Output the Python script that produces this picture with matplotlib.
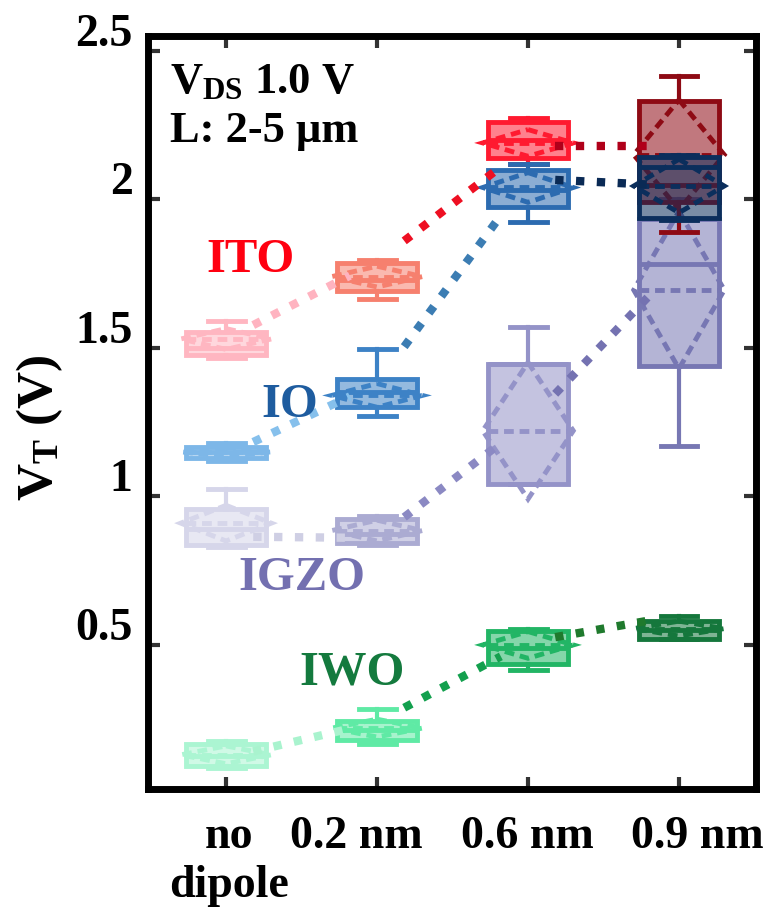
import matplotlib
matplotlib.use("Agg")
import matplotlib.pyplot as plt
import matplotlib.transforms as mtransforms
from matplotlib.colors import to_rgba
from matplotlib.patches import Polygon

plt.rcParams['font.family'] = ['Liberation Serif', 'DejaVu Serif']
plt.rcParams['font.weight'] = 'bold'
plt.rcParams['mathtext.fontset'] = 'custom'
plt.rcParams['mathtext.rm'] = 'Liberation Serif:bold'
plt.rcParams['mathtext.bf'] = 'Liberation Serif:bold'
plt.rcParams['mathtext.it'] = 'Liberation Serif:bold:italic'

# ---------------- data ----------------
CATEGORIES = ["no\ndipole", "0.2 nm", "0.6 nm", "0.9 nm"]
POSITIONS = [0, 1, 2, 3]
Y_TICKS = [0.5, 1.0, 1.5, 2.0, 2.5]
Y_TICK_LABELS = ["0.5", "1", "1.5", "2", "2.5"]

ITO_LOW = [1.465, 1.665, 2.12, 1.89]
ITO_Q1 = [1.475, 1.69, 2.14, 1.99]
ITO_MED = [1.50, 1.73, 2.20, 2.05]
ITO_Q3 = [1.555, 1.785, 2.26, 2.33]
ITO_HIGH = [1.59, 1.795, 2.275, 2.415]
ITO_MEAN = [1.53, 1.74, 2.19, 2.15]
ITO_SD = [0.035, 0.035, 0.045, 0.185]
ITO_TREND = [1.53, 1.79, 2.18, 2.18]

IO_LOW = [1.12, 1.27, 1.925, 1.93]
IO_Q1 = [1.128, 1.30, 1.975, 1.938]
IO_MED = [1.15, 1.35, 2.03, 2.11]
IO_Q3 = [1.168, 1.395, 2.10, 2.143]
IO_HIGH = [1.18, 1.497, 2.12, 2.15]
IO_MEAN = [1.15, 1.34, 2.04, 2.045]
IO_SD = [0.015, 0.04, 0.05, 0.09]
IO_TREND = [1.14, 1.38, 2.07, 2.045]

IGZO_LOW = [0.83, 0.835, 1.042, 1.17]
IGZO_Q1 = [0.835, 0.843, 1.042, 1.44]
IGZO_MED = [0.89, 0.875, 1.445, 1.783]
IGZO_Q3 = [0.958, 0.925, 1.446, 1.934]
IGZO_HIGH = [1.025, 0.935, 1.571, 2.0]
IGZO_MEAN = [0.91, 0.885, 1.221, 1.695]
IGZO_SD = [0.06, 0.035, 0.23, 0.265]
IGZO_TREND = [0.865, 0.86, 1.25, 1.78]

IWO_LOW = [0.085, 0.167, 0.416, 0.52]
IWO_Q1 = [0.093, 0.18, 0.436, 0.52]
IWO_MED = [0.125, 0.215, 0.49, 0.55]
IWO_Q3 = [0.167, 0.244, 0.547, 0.581]
IWO_HIGH = [0.175, 0.285, 0.555, 0.598]
IWO_MEAN = [0.13, 0.22, 0.50, 0.555]
IWO_SD = [0.03, 0.03, 0.045, 0.025]
IWO_TREND = [0.12, 0.24, 0.51, 0.60]

# ---------------- styles ----------------
ITO_COLORS = ["#FFB6C1", "#F6806E", "#FF1A30", "#8E0A14"]
IO_COLORS = ["#7DB7E8", "#3D82C6", "#2C6BB0", "#0B2E5C"]
IGZO_COLORS = ["#D6D6EA", "#ABABD2", "#9493C8", "#7777B3"]
IWO_COLORS = ["#ABF5D2", "#5FEAA5", "#22B565", "#15773C"]

ITO_LINE = ["#FFB3C0", "#EE0F22", "#B0001A"]
IO_LINE = ["#86C0EC", "#3C7DB3", "#0A2A55"]
IGZO_LINE = ["#CFCFE4", "#8B89C3", "#7472B1"]
IWO_LINE = ["#A9F3CE", "#13A04E", "#1F7A2D"]

BOX_W = 0.53
CAP_W = 0.245
RHOMB_HW = 0.30
TRIM = 0.18
BOX_LW = 3.5
FILL_ALPHA = 0.55

fig = plt.figure(figsize=(7.68, 9.12), dpi=100)
ax = fig.add_axes([148 / 768, 122 / 912, (756 - 148) / 768, (790 - 37) / 912])
ax.set_xlim(-0.517, 3.51)
ax.set_ylim(0.015, 2.55)


def draw_group(low, q1, med, q3, high, mean, sd, colors, z):
    stats = [dict(whislo=l, q1=a, med=m, q3=b, whishi=h, mean=mu, label='')
             for l, a, m, b, h, mu in zip(low, q1, med, q3, high, mean)]
    bp = ax.bxp(stats, positions=POSITIONS, widths=BOX_W, capwidths=CAP_W,
                patch_artist=True, showmeans=True, meanline=True,
                showfliers=False, manage_ticks=False,
                boxprops=dict(linewidth=BOX_LW),
                whiskerprops=dict(linewidth=3.0),
                capprops=dict(linewidth=3.5),
                medianprops=dict(linewidth=BOX_LW),
                meanprops=dict(linewidth=BOX_LW, linestyle=(0, (2, 1.2))))
    for i, c in enumerate(colors):
        box = bp['boxes'][i]
        box.set_facecolor(to_rgba(c, FILL_ALPHA))
        box.set_edgecolor(c)
        box.set_zorder(z)
        for art in (bp['whiskers'][2 * i], bp['whiskers'][2 * i + 1],
                    bp['caps'][2 * i], bp['caps'][2 * i + 1],
                    bp['medians'][i], bp['means'][i]):
            art.set_color(c)
            art.set_zorder(z + 0.1)
        x = POSITIONS[i]
        rh = Polygon([(x, mean[i] + sd[i]), (x + RHOMB_HW, mean[i]),
                      (x, mean[i] - sd[i]), (x - RHOMB_HW, mean[i])],
                     closed=True, fill=False, edgecolor=c, linewidth=BOX_LW,
                     linestyle=(0, (2, 1.2)), zorder=z + 0.2)
        ax.add_patch(rh)


def draw_trend(trend, colors):
    for k in range(len(POSITIONS) - 1):
        x0, x1 = POSITIONS[k], POSITIONS[k + 1]
        y0, y1 = trend[k], trend[k + 1]
        f = TRIM / (x1 - x0)
        xa, xb = x0 + TRIM, x1 - TRIM
        ya, yb = y0 + f * (y1 - y0), y1 - f * (y1 - y0)
        ax.plot([xa, xb], [ya, yb], color=colors[k], linewidth=6,
                linestyle=(0, (1, 1.5)), dash_capstyle='butt', zorder=10)


draw_group(IWO_LOW, IWO_Q1, IWO_MED, IWO_Q3, IWO_HIGH, IWO_MEAN, IWO_SD, IWO_COLORS, 2)
draw_group(IGZO_LOW, IGZO_Q1, IGZO_MED, IGZO_Q3, IGZO_HIGH, IGZO_MEAN, IGZO_SD, IGZO_COLORS, 3)
draw_group(ITO_LOW, ITO_Q1, ITO_MED, ITO_Q3, ITO_HIGH, ITO_MEAN, ITO_SD, ITO_COLORS, 4)
draw_group(IO_LOW, IO_Q1, IO_MED, IO_Q3, IO_HIGH, IO_MEAN, IO_SD, IO_COLORS, 5)

draw_trend(IWO_TREND, IWO_LINE)
draw_trend(IGZO_TREND, IGZO_LINE)
draw_trend(ITO_TREND, ITO_LINE)
draw_trend(IO_TREND, IO_LINE)

# group labels
ax.text(0.16, 1.759, "ITO", color="#FF0010", fontsize=35, fontweight='bold',
        ha='center', va='baseline', zorder=12)
ax.text(0.424, 1.271, "IO", color="#1E5C9F", fontsize=35, fontweight='bold',
        ha='center', va='baseline', zorder=12)
ax.text(0.503, 0.689, "IGZO", color="#7370B0", fontsize=35, fontweight='bold',
        ha='center', va='baseline', zorder=12)
ax.text(0.834, 0.369, "IWO", color="#147A3E", fontsize=35, fontweight='bold',
        ha='center', va='baseline', zorder=12)

# condition annotation
ax.text(-0.37, 2.362, r"V$_{\mathbf{DS}}$ 1.0 V", fontsize=32, fontweight='bold',
        ha='left', va='baseline', zorder=12)
ax.text(-0.37, 2.197, "L: 2-5 \u03bcm", fontsize=32, fontweight='bold',
        ha='left', va='baseline', zorder=12)

# axes styling
for sp in ax.spines.values():
    sp.set_linewidth(5)
    sp.set_color('black')
    sp.set_zorder(20)

ax.set_xticks(POSITIONS)
ax.set_xticklabels(CATEGORIES, fontsize=33, fontweight='bold', linespacing=1.2)
ax.set_yticks(Y_TICKS)
ax.set_yticklabels(Y_TICK_LABELS, fontsize=33, fontweight='bold')
ax.tick_params(direction='in', length=8.5, width=3, color='#333333',
               top=True, right=True)
ax.tick_params(axis='x', pad=19)
ax.tick_params(axis='y', pad=11)

for lbl in ax.get_yticklabels():
    lbl.set_transform(lbl.get_transform() +
                      mtransforms.ScaledTranslation(0, 0.22, fig.dpi_scale_trans))
X_LABEL_SHIFT_PX = [3, -21, -1, 18]
for lbl, dx in zip(ax.get_xticklabels(), X_LABEL_SHIFT_PX):
    lbl.set_transform(lbl.get_transform() +
                      mtransforms.ScaledTranslation(dx / 100, 0, fig.dpi_scale_trans))

fig.text(40 / 768, 1 - 428 / 912, r"V$_{\mathbf{T}}$ (V)", fontsize=37,
         fontweight='bold', rotation=90, ha='center', va='center')

fig.savefig("out.png", dpi=100)
